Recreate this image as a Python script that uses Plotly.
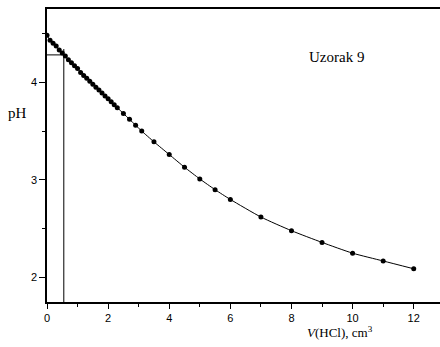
import plotly.graph_objects as go

# Data: volume of HCl (cm^3) and pH
v_hcl = [0.0, 0.1, 0.2, 0.3, 0.4, 0.5, 0.6, 0.7, 0.8, 0.9, 1.0, 1.1, 1.2, 1.3,
         1.4, 1.5, 1.6, 1.7, 1.8, 1.9, 2.0, 2.1, 2.2, 2.3,
         2.5, 2.7, 2.9, 3.1, 3.5, 4.0, 4.5, 5.0, 5.5, 6.0, 7.0, 8.0, 9.0,
         10.0, 11.0, 12.0]
ph = [4.48, 4.43, 4.40, 4.37, 4.33, 4.30, 4.27, 4.23, 4.20, 4.17, 4.14, 4.10,
      4.07, 4.04, 4.01, 3.98, 3.95, 3.92, 3.89, 3.86, 3.83, 3.80, 3.77, 3.74,
      3.68, 3.62, 3.56, 3.50, 3.39, 3.26, 3.13, 3.01, 2.90, 2.80, 2.62, 2.48,
      2.36, 2.25, 2.17, 2.09]

# Reference point (initial pH marker)
ref_v = 0.55
ref_ph = 4.28
ref_top = 4.34

x_range = [0, 12.86]
y_range = [1.75, 4.75]
x_ticks = [0, 2, 4, 6, 8, 10, 12]
y_ticks = [2, 3, 4]

fig = go.Figure()

fig.add_trace(go.Scatter(
    x=v_hcl, y=ph, mode="lines+markers",
    line=dict(color="black", width=1, shape="spline", smoothing=0.6),
    marker=dict(color="black", size=5),
    showlegend=False, hoverinfo="skip"))

# reference lines
fig.add_trace(go.Scatter(
    x=[x_range[0], ref_v], y=[ref_ph, ref_ph], mode="lines",
    line=dict(color="black", width=1), showlegend=False, hoverinfo="skip"))
fig.add_trace(go.Scatter(
    x=[ref_v, ref_v], y=[y_range[0], ref_top], mode="lines",
    line=dict(color="black", width=1), showlegend=False, hoverinfo="skip"))

tick_font = dict(family="Liberation Sans, Arial, sans-serif", size=11, color="black")
serif = "Liberation Serif, Times New Roman, serif"

fig.update_xaxes(
    range=x_range, tickvals=x_ticks, ticks="outside", ticklen=5, tickwidth=1,
    tickcolor="black", showline=True, linecolor="black", linewidth=1.5,
    mirror=True, showgrid=False, zeroline=False, tickfont=tick_font,
    minor=dict(dtick=1, tick0=0, ticks="outside", ticklen=3, tickcolor="black",
               showgrid=False))
fig.update_yaxes(
    range=y_range, tickvals=y_ticks, ticks="outside", ticklen=6, tickwidth=1,
    tickcolor="black", showline=True, linecolor="black", linewidth=1.5,
    mirror=False, showgrid=False, zeroline=False, tickfont=tick_font,
    minor=dict(dtick=0.5, tick0=0, ticks="outside", ticklen=3, tickcolor="black",
               showgrid=False))

fig.add_annotation(text="pH", xref="paper", yref="paper", x=-0.075, y=0.645,
                   showarrow=False, xanchor="center", yanchor="middle",
                   font=dict(family=serif, size=15, color="black"))
fig.add_annotation(text="<i>V</i>(HCl), cm<sup>3</sup>", xref="paper", yref="paper",
                   x=0.745, y=-0.068, showarrow=False, xanchor="center",
                   yanchor="top", font=dict(family=serif, size=13, color="black"))
fig.add_annotation(text="Uzorak 9", xref="paper", yref="paper",
                   x=0.737, y=0.837, showarrow=False, xanchor="center",
                   yanchor="middle", font=dict(family=serif, size=15, color="black"))

fig.update_layout(
    width=440, height=347,
    margin=dict(l=47, r=0, t=9, b=45, pad=0),
    paper_bgcolor="white", plot_bgcolor="white",
    showlegend=False)

fig.write_html("out.html")
